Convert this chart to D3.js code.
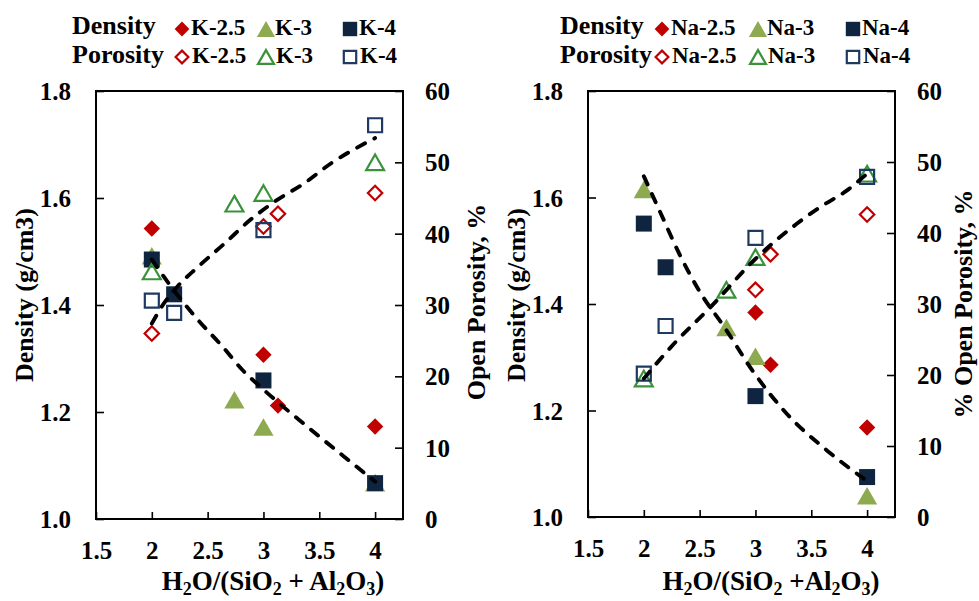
<!DOCTYPE html>
<html>
<head>
<meta charset="utf-8">
<script src="https://cdn.jsdelivr.net/npm/d3@7"></script>
<style>
  html, body { margin: 0; padding: 0; background: #fff; }
  svg text { font-family: "Liberation Serif", "Times New Roman", Times, "DejaVu Serif", serif; font-weight: bold; }
</style>
</head>
<body>
<svg id="chart" width="979" height="601"></svg>
<script>
// ---------------- DATA ----------------
const xTicks = [1.5, 2, 2.5, 3, 3.5, 4];
const densityTicks = [1.0, 1.2, 1.4, 1.6, 1.8];
const porosityTicks = [0, 10, 20, 30, 40, 50, 60];

// K panel (x = H2O/(SiO2+Al2O3), value)
const kDensity25 = [[2, 1.543], [3, 1.307], [3.13, 1.212], [4, 1.173]];
const kDensity3  = [[2, 1.492], [2.74, 1.223], [3, 1.172], [4, 1.068]];
const kDensity4  = [[2, 1.485], [2.2, 1.420], [3, 1.259], [4, 1.067]];
const kPorosity25 = [[2, 26.0], [3, 41.0], [3.13, 42.8], [4, 45.7]];
const kPorosity3  = [[2, 34.7], [2.74, 44.2], [3, 45.7], [4, 50.0]];
const kPorosity4  = [[2, 30.6], [2.2, 28.9], [3, 40.5], [4, 55.2]];
const kDensityTrend  = [[2, 1.485], [2.17, 1.435], [2.41, 1.373], [2.63, 1.323], [2.81, 1.279], [3.0, 1.242], [3.39, 1.173], [3.72, 1.117], [4.0, 1.070]];
const kPorosityTrend = [[2, 27.4], [2.09, 29.8], [2.23, 32.6], [2.41, 35.3], [2.65, 38.6], [2.88, 41.9], [3.12, 44.7], [3.36, 47.0], [3.6, 49.8], [4.0, 53.4]];

// Na panel
const naDensity25 = [[3, 1.384], [3.135, 1.286], [4, 1.168]];
const naDensity3  = [[2, 1.615], [2.74, 1.356], [3, 1.302], [4, 1.040]];
const naDensity4  = [[2, 1.551], [2.195, 1.469], [3, 1.227], [4, 1.075]];
const naPorosity25 = [[3, 32.0], [3.135, 37.0], [4, 42.6]];
const naPorosity3  = [[2, 19.5], [2.74, 32.0], [3, 36.6], [4, 48.35]];
const naPorosity4  = [[2, 20.2], [2.195, 26.9], [3, 39.3], [4, 47.9]];
const naDensityTrend  = [[2.0, 1.640], [2.15, 1.571], [2.33, 1.489], [2.51, 1.420], [2.72, 1.357], [2.99, 1.270], [3.28, 1.194], [3.64, 1.125], [3.97, 1.072]];
const naPorosityTrend = [[2.0, 19.5], [2.27, 24.4], [2.6, 29.6], [2.99, 36.2], [3.37, 41.3], [3.58, 43.65], [3.82, 46.0], [4.0, 48.35]];

const kLabels  = ["K-2.5", "K-3", "K-4"];
const naLabels = ["Na-2.5", "Na-3", "Na-4"];

// ---------------- STYLE ----------------
const RED = "#C00000", OLIVE = "#8EAA50", GREEN = "#3A923A", NAVY = "#0F243E", NAVY_OPEN = "#1F3A60";

const svg = d3.select("#chart");

function shapePath(kind, s) {
  if (kind === "diamond") return `M0,${-s}L${s},0L0,${s}L${-s},0Z`;
  if (kind === "square") return `M${-s},${-s}H${s}V${s}H${-s}Z`;
  const w = s * 1.15, h = s;
  return `M0,${-h}L${w},${h}L${-w},${h}Z`;
}

function marker(g, kind, filled, color, sizeScale) {
  const k = sizeScale || 1;
  const base = { diamond: 8.2, square: 8, triangle: 8.8 }[kind] * k;
  const p = g.append("path");
  if (filled) {
    p.attr("d", shapePath(kind, base)).attr("fill", color).attr("stroke", "none");
  } else {
    p.attr("d", shapePath(kind, base - 1)).attr("fill", "none").attr("stroke", color).attr("stroke-width", 2.2);
  }
  return p;
}

function drawPanel(cfg) {
  const { left, right, top, bottom } = cfg.box;
  const x = d3.scaleLinear().domain([1.5, 4.25]).range([left, right]);
  const yD = d3.scaleLinear().domain([1.0, 1.8]).range([bottom, top]);
  const yP = d3.scaleLinear().domain([0, 60]).range([bottom, top]);
  const g = svg.append("g");

  const ax = g.append("g").attr("transform", `translate(0,${bottom})`)
    .call(d3.axisBottom(x).tickValues(xTicks).tickFormat(d3.format("")).tickSizeInner(-7).tickSizeOuter(0));
  const ayL = g.append("g").attr("transform", `translate(${left},0)`)
    .call(d3.axisLeft(yD).tickValues(densityTicks).tickFormat(d3.format(".1f")).tickSizeInner(-8).tickSizeOuter(0));
  const ayR = g.append("g").attr("transform", `translate(${right},0)`)
    .call(d3.axisRight(yP).tickValues(porosityTicks).tickFormat(d3.format("d")).tickSizeInner(-8).tickSizeOuter(0));
  [ax, ayL, ayR].forEach(a => {
    a.attr("font-family", null).attr("font-size", null);
    a.select(".domain").remove();
    a.selectAll("line").attr("stroke", "#000").attr("stroke-width", 1.6);
    a.selectAll("text").attr("font-size", 25).attr("fill", "#000");
  });
  ax.selectAll("text").attr("y", 40).attr("dy", 0);
  ayL.selectAll("text").attr("x", -25).attr("dy", "0.34em");
  ayR.selectAll("text").attr("x", 22).attr("dy", "0.34em");

  g.append("rect").attr("x", left).attr("y", top).attr("width", right - left).attr("height", bottom - top)
    .attr("fill", "none").attr("stroke", "#000").attr("stroke-width", 2);

  const series = [
    { data: cfg.density[0], kind: "diamond", filled: true, color: RED, y: yD },
    { data: cfg.density[1], kind: "triangle", filled: true, color: OLIVE, y: yD },
    { data: cfg.density[2], kind: "square", filled: true, color: NAVY, y: yD },
    { data: cfg.porosity[0], kind: "diamond", filled: false, color: RED, y: yP },
    { data: cfg.porosity[1], kind: "triangle", filled: false, color: GREEN, y: yP },
    { data: cfg.porosity[2], kind: "square", filled: false, color: NAVY_OPEN, y: yP },
  ];
  series.forEach(s => {
    s.data.forEach(d => {
      const mg = g.append("g").attr("transform", `translate(${x(d[0])},${s.y(d[1])})`);
      marker(mg, s.kind, s.filled, s.color);
    });
  });

  const lineD = d3.line().x(d => x(d[0])).y(d => yD(d[1])).curve(d3.curveMonotoneX);
  const lineP = d3.line().x(d => x(d[0])).y(d => yP(d[1])).curve(d3.curveMonotoneX);
  [[cfg.densityTrend, lineD], [cfg.porosityTrend, lineP]].forEach(([data, gen]) => {
    g.append("path").attr("d", gen(data)).attr("fill", "none").attr("stroke", "#000")
      .attr("stroke-width", 3.9).attr("stroke-dasharray", "9,10.5").attr("stroke-linecap", "round");
  });

  g.append("text").attr("transform", `translate(${cfg.leftTitleX},${cfg.leftTitleY}) rotate(-90)`)
    .attr("text-anchor", "middle").attr("font-size", 26).text("Density (g/cm3)");
  g.append("text").attr("transform", `translate(${cfg.rightTitleX},${cfg.rightTitleY}) rotate(-90)`)
    .attr("text-anchor", "middle").attr("font-size", 26).text(cfg.rightTitle);

  const xt = g.append("text").attr("x", cfg.xTitleX).attr("y", 590).attr("text-anchor", "middle").attr("font-size", 27);
  cfg.xTitleParts.forEach(p => {
    if (p.sub) {
      xt.append("tspan").attr("font-size", 18).attr("dy", 5).text(p.t);
    } else {
      xt.append("tspan").attr("dy", p.after ? -5 : 0).text(p.t);
    }
  });

  const L = cfg.legend;
  g.append("text").attr("x", L.x).attr("y", 34).attr("font-size", 26).text("Density");
  g.append("text").attr("x", L.x).attr("y", 63).attr("font-size", 26).text("Porosity");
  const kinds = ["diamond", "triangle", "square"];
  const fills = [RED, OLIVE, NAVY];
  const opens = [RED, GREEN, NAVY_OPEN];
  kinds.forEach((k, i) => {
    const mx = L.markers[i];
    marker(g.append("g").attr("transform", `translate(${mx},29)`), k, true, fills[i], 0.9);
    marker(g.append("g").attr("transform", `translate(${mx},57)`), k, false, opens[i], 0.9);
    g.append("text").attr("x", mx + 9).attr("y", 35).attr("font-size", 23).text(cfg.labels[i]);
    g.append("text").attr("x", mx + 10).attr("y", 63).attr("font-size", 23).text(cfg.labels[i]);
  });
}

drawPanel({
  box: { left: 96, right: 403, top: 91, bottom: 519 },
  density: [kDensity25, kDensity3, kDensity4],
  porosity: [kPorosity25, kPorosity3, kPorosity4],
  densityTrend: kDensityTrend, porosityTrend: kPorosityTrend,
  leftTitleX: 33, leftTitleY: 295,
  rightTitleX: 485, rightTitleY: 302, rightTitle: "Open Porosity, %",
  xTitleX: 273,
  xTitleParts: [{ t: "H" }, { t: "2", sub: true }, { t: "O/(SiO", after: true }, { t: "2", sub: true }, { t: " + Al", after: true }, { t: "2", sub: true }, { t: "O", after: true }, { t: "3", sub: true }, { t: ")", after: true }],
  legend: { x: 72, markers: [182, 266, 350] },
  labels: kLabels
});

drawPanel({
  box: { left: 588, right: 895, top: 91, bottom: 517 },
  density: [naDensity25, naDensity3, naDensity4],
  porosity: [naPorosity25, naPorosity3, naPorosity4],
  densityTrend: naDensityTrend, porosityTrend: naPorosityTrend,
  leftTitleX: 525, leftTitleY: 295,
  rightTitleX: 972, rightTitleY: 304, rightTitle: "% Open Porosity, %",
  xTitleX: 771,
  xTitleParts: [{ t: "H" }, { t: "2", sub: true }, { t: "O/(SiO", after: true }, { t: "2", sub: true }, { t: " +Al", after: true }, { t: "2", sub: true }, { t: "O", after: true }, { t: "3", sub: true }, { t: ")", after: true }],
  legend: { x: 560, markers: [662, 758, 853] },
  labels: naLabels
});
</script>
</body>
</html>
